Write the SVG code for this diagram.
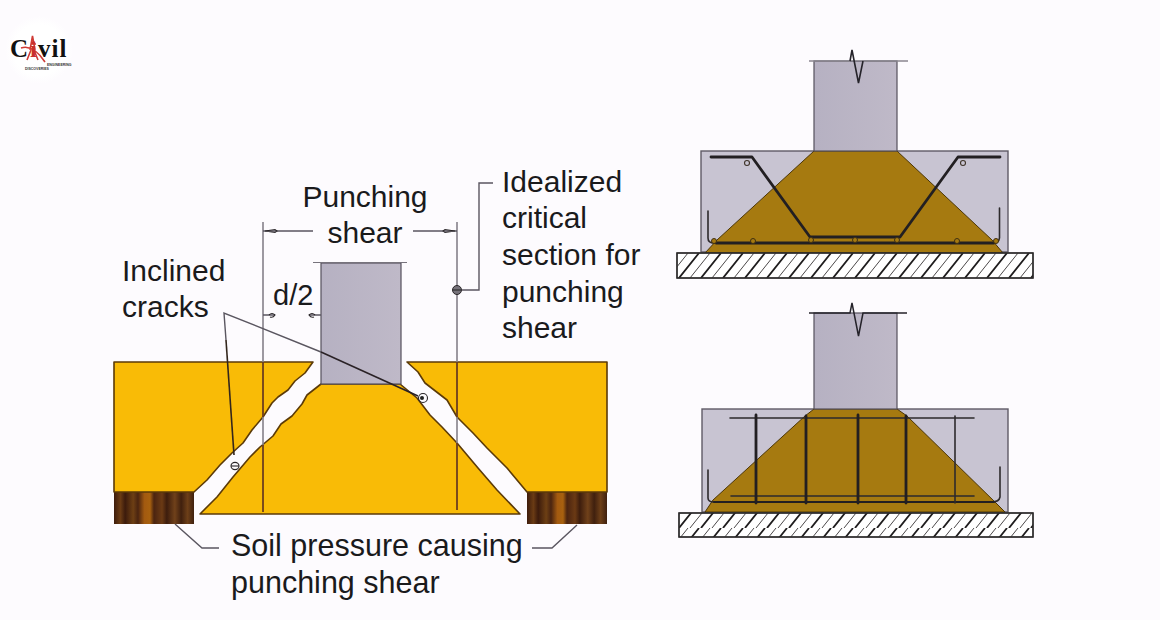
<svg xmlns="http://www.w3.org/2000/svg" width="1160" height="620" viewBox="0 0 1160 620">
<defs>
<style>
.lbl{font-family:"Liberation Sans",Arial,sans-serif;font-size:30px;fill:#1a1a1c}
.conc{fill:#f9bb06;stroke:#5b3a08;stroke-width:1.6;stroke-linejoin:round}
.col{fill:url(#colGrad);stroke:#55505c;stroke-width:1.2}
.slab{fill:#c8c4d2;stroke:#5f5b66;stroke-width:1.4}
.core{fill:#a67a10;stroke:#4c3606;stroke-width:1}
.lead{fill:none;stroke:#5a5660;stroke-width:1.4}
.grey{fill:none;stroke:#85818a;stroke-width:1.6}
.crit{fill:none;stroke:#6d3f1f;stroke-width:1.8}
.bar{fill:none;stroke:#221f22;stroke-width:2.8;stroke-linejoin:round;stroke-linecap:round}
.thin{fill:none;stroke:#2d2a2c;stroke-width:1.6;stroke-linecap:round}
.mark{fill:none;stroke:#2a2629;stroke-width:1.1}
</style>
<linearGradient id="colGrad" x1="0" y1="0" x2="1" y2="0"><stop offset="0" stop-color="#b6b1c2"/><stop offset="1" stop-color="#bfb9c8"/></linearGradient>
<linearGradient id="soil" x1="0" y1="0" x2="1" y2="0">
<stop offset="0" stop-color="#3d1c0c"/><stop offset=".08" stop-color="#6a3b14"/><stop offset=".14" stop-color="#3c1b0c"/><stop offset=".24" stop-color="#6d3f14"/><stop offset=".3" stop-color="#4a2410"/><stop offset=".38" stop-color="#a35a10"/><stop offset=".45" stop-color="#a8610f"/><stop offset=".5" stop-color="#4b2410"/><stop offset=".6" stop-color="#6b3a14"/><stop offset=".66" stop-color="#3d1d0d"/><stop offset=".76" stop-color="#70411a"/><stop offset=".84" stop-color="#40200e"/><stop offset=".92" stop-color="#6d3f18"/><stop offset="1" stop-color="#3f200f"/>
</linearGradient>
<pattern id="hatch" width="22" height="25" patternUnits="userSpaceOnUse" patternTransform="translate(679 253)">
<path d="M-22 25L-2 0M0 25L20 0M22 25L42 0" stroke="#1f1d1e" stroke-width="1.800" fill="none"/>
<path d="M-11 25L9 0M11 25L31 0" stroke="#4a4748" stroke-width="1" fill="none"/>
</pattern>
<radialGradient id="bgGlow"><stop offset="0" stop-color="#fff"/><stop offset=".75" stop-color="#fff"/><stop offset="1" stop-color="#fdfbfe"/></radialGradient>
</defs>
<rect width="1160" height="620" fill="#fdfbfe"/>

<g id="logo">
<circle cx="39" cy="50" r="34" fill="url(#bgGlow)"/>
<path d="M30 50L32.500 36L35 50M21 48Q33 44 45 62M31 44L36 44M31 50L27 60M34 50L38 60" fill="none" stroke="#cf3a35" stroke-width="1.600"/>
<text x="10" y="57" font-family="'Liberation Serif',serif" font-size="25" font-weight="700" fill="#111">C</text>
<text x="38" y="57" font-family="'Liberation Serif',serif" font-size="25" font-weight="700" letter-spacing="1" fill="#111">vil</text>
<text x="30" y="57" font-family="'Liberation Serif',serif" font-size="24" font-weight="700" fill="#c9302c">i</text>
<text x="47" y="66" font-family="'Liberation Sans',sans-serif" font-size="3.500" font-weight="700" fill="#333">ENGINEERING</text>
<text x="25" y="69.500" font-family="'Liberation Sans',sans-serif" font-size="3.500" font-weight="700" fill="#333">DISCOVERIES</text>
</g>

<g id="punching-section">
<rect id="soil-left" x="114" y="492" width="80" height="32" fill="url(#soil)"/>
<rect id="soil-right" x="527" y="492" width="80" height="32" fill="url(#soil)"/>
<path id="slab-left" class="conc" d="M114 362H313L305 373L295 381L288 390L278 397L272 403L263 417L252 430L243 443L232 453L220 465L207 480L194 492H114Z"/>
<path id="slab-right" class="conc" d="M407 362H607V492H527L507 468L487 448L473 433L457 417L447 400L425 383L418 372Z"/>
<path id="cone" class="conc" d="M321 384H400L417 398L430 415L442 427L457 443L478 468L497 490L520 514H200L217 497L233 477L250 457L260 447L273 436L281 424L292 416L302 404L307 395Z"/>
<rect id="column" class="col" x="321" y="263" width="80" height="121"/>
<path d="M313 262.500H407" stroke="#77737c" stroke-width="1.200"/>
</g>

<g id="connectors">
<path class="grey" d="M263 222V362M457 222V362M263 417V445M457 417V443"/>
<path class="crit" d="M263 362V417M263 445V512M457 362V417M457 443V510"/>
<path class="lead" d="M263 231H313M413 231H457M263 315H275M309 315H321"/>
<path class="mark" d="M265 231L275 229.500L277 231L275 232.500ZM455 231L445 229.500L443 231L445 232.500ZM269 315Q272 312 275 315Q273 318 270 317M315 315Q312 312 309 315Q311 318 314 317"/>
<path class="lead" d="M493 183H479V290H462"/>
<circle cx="457" cy="290" r="4.500" fill="#76727a" stroke="#2a2629" stroke-width="1"/>
<path d="M453 290H461" stroke="#222" stroke-width="1"/>
<path d="M226 340L224 313L321 352" class="lead"/>
<path d="M226 340L234 455" fill="none" stroke="#33261c" stroke-width="1.600"/>
<path d="M321 352L418 396" fill="none" stroke="#2a2226" stroke-width="1.600"/>
<ellipse cx="235" cy="466" rx="4" ry="3.600" class="mark"/>
<path class="mark" d="M231 466H239"/>
<circle cx="423" cy="398" r="4.500" class="mark"/>
<circle cx="422" cy="398" r="2" fill="#222"/>
<path class="lead" d="M175 524L202 548H219M577 525L552 548H532"/>
</g>

<g id="labels">
<text class="lbl" x="365" y="207" text-anchor="middle">Punching</text>
<text class="lbl" x="365" y="243" text-anchor="middle">shear</text>
<text class="lbl" x="502" y="192">Idealized</text>
<text class="lbl" x="502" y="228">critical</text>
<text class="lbl" x="502" y="265">section for</text>
<text class="lbl" x="502" y="302">punching</text>
<text class="lbl" x="502" y="338">shear</text>
<text class="lbl" x="122" y="281">Inclined</text>
<text class="lbl" x="122" y="317">cracks</text>
<text class="lbl" x="273" y="305" style="font-size:29px">d/2</text>
<text class="lbl" x="231" y="556" style="font-size:30.500px">Soil pressure causing</text>
<text class="lbl" x="231" y="593" style="font-size:30.500px">punching shear</text>
</g>

<g id="footing-bent-bars">
<rect class="slab" x="701" y="151" width="307" height="101"/>
<path class="core" d="M814 151H897L992 240L1003 253H705L717 240Z"/>
<rect class="col" x="814" y="61" width="83" height="90"/>
<path d="M809 61H850M863 61H908" fill="none" stroke="#8a8690" stroke-width="1.300"/>
<path d="M850 61L852 50L858.500 83L863 61" fill="none" stroke="#25232a" stroke-width="1.600"/>
<rect x="677" y="253" width="356" height="25" fill="#fff" stroke="#2d2b2c" stroke-width="1.300"/>
<rect x="677" y="253" width="356" height="25" fill="url(#hatch)" stroke="#2d2b2c" stroke-width="1.300"/>
<path class="bar" d="M711 157H752L810 237H900L958 157H1000"/>
<path class="thin" d="M708 211V238Q708 243 714 243H992Q999 243 999.500 238V208"/>
<path class="bar" d="M716 243H994"/>
<g fill="none" stroke="#3f342a" stroke-width="1.100">
<circle cx="747" cy="163" r="2.500"/><circle cx="963" cy="163" r="2.500"/>
</g>
<g fill="#a67a10" stroke="#3f2f12" stroke-width="1">
<circle cx="714" cy="241" r="2.500"/><circle cx="753" cy="241" r="2.500"/><circle cx="811" cy="240" r="2.500"/><circle cx="855" cy="240" r="2.500"/><circle cx="897" cy="240" r="2.500"/><circle cx="957" cy="241" r="2.500"/><circle cx="996" cy="241" r="2.500"/>
</g>
</g>

<g id="footing-stirrups">
<rect class="slab" x="702" y="409" width="306" height="103"/>
<path class="core" d="M814 409H897L907 416L996 503L1005 512H705L713 500L805 416Z"/>
<rect class="col" x="814" y="313" width="83" height="96"/>
<path d="M809 313H850L852 303L858.500 336L863 313H907" fill="none" stroke="#25232a" stroke-width="1.500"/>
<rect x="679" y="513" width="354" height="24" fill="#fff" stroke="#2d2b2c" stroke-width="1.300"/>
<rect x="679" y="513" width="354" height="24" fill="url(#hatch)" stroke="#2d2b2c" stroke-width="1.300"/>
<path class="thin" d="M730 418H974M731 496H974"/>
<path class="thin" d="M708 470V498Q708 502 714 502H992Q999 502 1000 497V467"/>
<path class="bar" d="M714 502H994" style="stroke-width:2"/>
<path class="bar" d="M756 415V503M806 416V503M858 415V503M906 416V503"/>
<path class="thin" d="M955 416V503"/>
</g>
</svg>
